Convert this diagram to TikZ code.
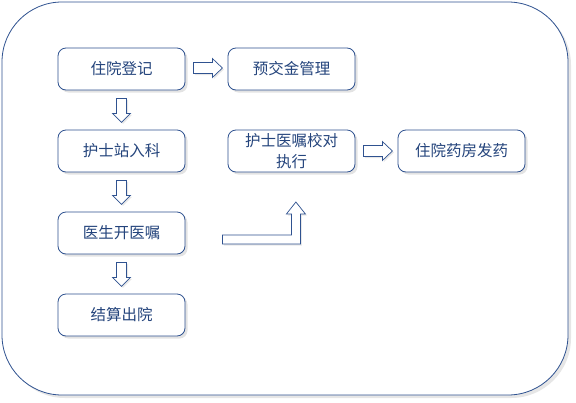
\documentclass[tikz,border=0pt]{standalone}
\usepackage{fontspec}
\newfontfamily\cjk{Noto Sans CJK SC}
\usetikzlibrary{shadows,calc}
\definecolor{bd}{HTML}{2F5290}
\definecolor{tx}{HTML}{24447C}
\tikzset{
  stepbox/.style={draw=bd, line width=0.8pt, fill=white, rounded corners=8pt,
    minimum width=127pt, minimum height=42pt, inner sep=0pt, align=center,
    text=tx, font=\cjk\fontsize{15.5pt}{21pt}\selectfont,
    drop shadow={opacity=0.22, shadow xshift=2.5pt, shadow yshift=-2.5pt}},
  arrowbody/.style={draw=bd, line width=0.7pt, fill=white,
    drop shadow={opacity=0.18, shadow xshift=1.5pt, shadow yshift=-1.5pt}},
  pics/rarrow/.style={code={
    \draw[arrowbody] (0,-5.5) -- (19,-5.5) -- (19,-9.5) -- (29,0) -- (19,9.5)
      -- (19,5.5) -- (0,5.5) -- cycle;}},
  pics/darrow/.style={code={
    \draw[arrowbody] (-5,0) -- (-5,15) -- (-9,15) -- (0,24) -- (9,15)
      -- (5,15) -- (5,0) -- cycle;}},
}
\begin{document}
\begin{tikzpicture}[x=1pt,y=-1pt]
\useasboundingbox (0,0) rectangle (576,402);
\draw[draw=bd, line width=0.8pt, fill=white, rounded corners=60pt,
  drop shadow={opacity=0.2, shadow xshift=3pt, shadow yshift=-3pt}]
  (2,2) rectangle (568,395);
\node[stepbox] (reg) at (121.5,69) {住院登记};
\node[stepbox] (pay) at (291.5,69) {预交金管理};
\node[stepbox] (ward) at (121.5,151) {护士站入科};
\node[stepbox] (check) at (291.5,151) {护士医嘱校对\\执行};
\node[stepbox] (pharm) at (461.5,151) {住院药房发药};
\node[stepbox] (order) at (121.5,233) {医生开医嘱};
\node[stepbox] (out) at (121.5,315) {结算出院};
\coordinate (a1) at ($(reg.east)+(8,-1)$);
\pic at (a1) {rarrow};
\coordinate (a2) at ($(reg.south)+(0,8)$);
\pic at (a2) {darrow};
\coordinate (a3) at ($(ward.south)+(0,8)$);
\pic at (a3) {darrow};
\coordinate (a4) at ($(order.south)+(0,8)$);
\pic at (a4) {darrow};
\coordinate (a5) at ($(check.east)+(8,0)$);
\pic at (a5) {rarrow};
\coordinate (e0) at ($(order.east)+(37,2)$);
\draw[arrowbody]
  (e0) -- ++(69,0) -- ++(0,-21) -- ++(-5,0) -- ++(9.5,-12) -- ++(9.5,12)
  -- ++(-5,0) -- ++(0,30) -- ++(-78,0) -- cycle;
\end{tikzpicture}
\end{document}
